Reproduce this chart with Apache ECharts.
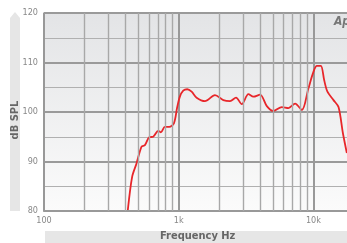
<!DOCTYPE html>
<html><head><meta charset="utf-8">
<script src="https://cdn.jsdelivr.net/npm/echarts@6/dist/echarts.min.js"></script>
<style>html,body{margin:0;padding:0;background:#fff}#c{width:347px;height:243px}</style>
</head><body><div id="c"></div>
<script>
const freqHz = [419,451,486,530,561,604,646,704,738,789,850,921,975,1020,1080,1157,1247,1358,1566,1858,2143,2403,2663,2937,3290,3584,4018,4508,5047,5823,6520,7311,8203,9184,10000,10600,11350,12020,12700,14090,15350,16550,17700];
const splDb  = [80.2,86.9,89.6,93.0,93.3,94.9,95.0,96.2,95.9,97.0,97.0,97.7,101.0,103.1,104.3,104.6,104.1,102.9,102.2,103.4,102.4,102.2,102.9,101.6,103.6,103.1,103.5,101.2,100.2,101.0,100.8,101.7,100.4,104.8,108.1,109.3,109.3,106.4,104.1,102.4,101.0,95.7,91.7];
const minorFreqs = [200,300,400,500,600,700,800,900,2000,3000,4000,5000,6000,7000,8000,9000];
const yTicks = [80,90,100,110,120];

const font = '"Liberation Sans Narrow","DejaVu Sans Condensed",sans-serif';
const chart = echarts.init(document.getElementById('c'), null, {renderer:'canvas'});
chart.setOption({
  animation:false,
  graphic:[
    {type:'rect', left:45, top:231, shape:{width:302,height:12}, style:{fill:'#e6e6e6'}},
    {type:'text', left:160, top:231, style:{text:'Frequency Hz', font:'bold 11px '+font, fill:'#666'}},
    {type:'polygon', shape:{points:[[15,12],[20,18],[20,211],[10,211],[10,18]]}, style:{fill:'#e6e6e6'}},
    {type:'text', x:15, y:120, rotation:Math.PI/2, style:{text:'dB SPL', font:'bold 11px '+font, fill:'#666', align:'center', verticalAlign:'middle'}},
    {type:'text', left:334, top:16, style:{text:'Ap', font:'italic bold 12px '+font, fill:'#777'}}
  ],
  grid:{left:44, top:13, height:198, width:310, outerBoundsMode:'none', containLabel:false, show:true, borderWidth:0,
    backgroundColor:new echarts.graphic.LinearGradient(0,0,0,1,[{offset:0,color:'#e3e4e6'},{offset:1,color:'#fbfbfb'}])},
  xAxis:{type:'log', logBase:10, min:100, max:20000,
    axisLine:{show:true, lineStyle:{color:'#999', width:2}},
    axisTick:{show:false},
    axisLabel:{color:'#888', fontSize:9, fontFamily:font, margin:5, showMaxLabel:false,
      formatter:v=> v>=1000 ? (v/1000)+'k' : String(v)},
    splitLine:{show:true, lineStyle:{color:'#999', width:2}}
  },
  yAxis:{type:'value', min:yTicks[0], max:yTicks[yTicks.length-1], interval:10,
    axisLine:{show:true, lineStyle:{color:'#999', width:1.5}},
    axisTick:{show:false},
    axisLabel:{color:'#888', fontSize:9, fontFamily:font, margin:6},
    splitLine:{show:true, lineStyle:{color:'#9a9a9a', width:2}},
    minorTick:{show:false, splitNumber:2},
    minorSplitLine:{show:true, lineStyle:{color:'#b0b0b0', width:1}}
  },
  series:[
    {type:'line', data:[], z:1, silent:true,
     markLine:{silent:true, symbol:'none', label:{show:false}, animation:false,
       lineStyle:{color:'#a8a8a8', width:1.4, type:'solid'},
       data:minorFreqs.map(f=>({xAxis:f}))}},
    {type:'line', z:3, data:freqHz.map((f,i)=>[f,splDb[i]]), showSymbol:false, smooth:0.3,
     lineStyle:{color:'#e8262a', width:1.8}}
  ]
});
</script></body></html>
